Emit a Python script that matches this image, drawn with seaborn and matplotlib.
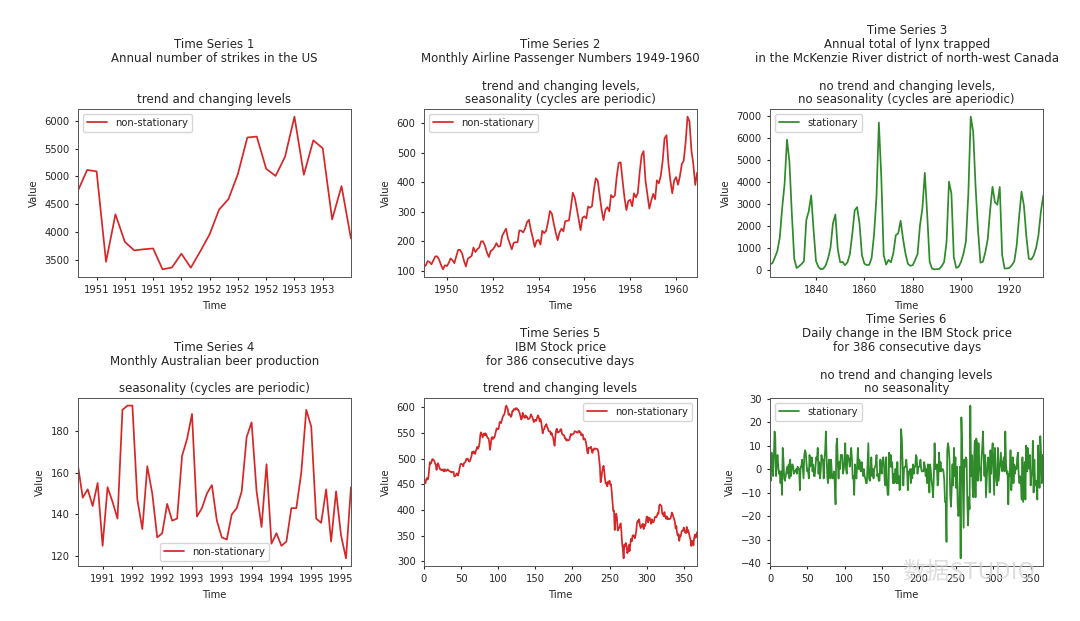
import pandas as pd
import numpy as np
import matplotlib
matplotlib.use("Agg")
import matplotlib.pyplot as plt
import matplotlib.dates as mdates
import seaborn as sns

# Time Series 1: annual number of strikes in the US
strikes = [4737, 5117, 5091, 3468, 4320, 3825, 3673, 3694, 3708, 3333,
           3367, 3614, 3362, 3655, 3963, 4405, 4595, 5045, 5700, 5716,
           5138, 5010, 5353, 6074, 5031, 5648, 5506, 4230, 4827, 3885]
strikes_tick_pos = [2, 5, 8, 11, 14, 17, 20, 23, 26]
strikes_tick_labels = ["1951", "1951", "1951", "1952", "1952", "1952", "1952", "1953", "1953"]

# Time Series 2: monthly airline passengers 1949-1960
airline = [112, 118, 132, 129, 121, 135, 148, 148, 136, 119, 104, 118,
           115, 126, 141, 135, 125, 149, 170, 170, 158, 133, 114, 140,
           145, 150, 178, 163, 172, 178, 199, 199, 184, 162, 146, 166,
           171, 180, 193, 181, 183, 218, 230, 242, 209, 191, 172, 194,
           196, 196, 236, 235, 229, 243, 264, 272, 237, 211, 180, 201,
           204, 188, 235, 227, 234, 264, 302, 293, 259, 229, 203, 229,
           242, 233, 267, 269, 270, 315, 364, 347, 312, 274, 237, 278,
           284, 277, 317, 313, 318, 374, 413, 405, 355, 306, 271, 306,
           315, 301, 356, 348, 355, 422, 465, 467, 404, 347, 305, 336,
           340, 318, 362, 348, 363, 435, 491, 505, 404, 359, 310, 337,
           360, 342, 406, 396, 420, 472, 548, 559, 463, 407, 362, 405,
           417, 391, 419, 461, 472, 535, 622, 606, 508, 461, 390, 432]
airline_start = "1949-01-01"

# Time Series 3: annual lynx trappings 1821-1934
lynx = [269, 321, 585, 871, 1475, 2821, 3928, 5943, 4950, 2577, 523, 98,
        184, 279, 409, 2285, 2685, 3409, 1824, 409, 151, 45, 68, 213, 546,
        1033, 2129, 2536, 957, 361, 377, 225, 360, 731, 1638, 2725, 2871,
        2119, 684, 299, 236, 245, 552, 1623, 3311, 6721, 4254, 687, 255,
        473, 358, 784, 1594, 1676, 2251, 1426, 756, 299, 201, 229, 469, 736,
        2042, 2811, 4431, 2511, 389, 73, 39, 49, 59, 188, 377, 1292, 4031,
        3495, 587, 105, 153, 387, 758, 1307, 3465, 6991, 6313, 3794, 1836,
        345, 382, 808, 1388, 2713, 3800, 3091, 2985, 3790, 674, 81, 80, 108,
        229, 399, 1132, 2432, 3574, 2935, 1537, 529, 485, 662, 1000, 1590,
        2657, 3396]
lynx_first_year = 1821

# Time Series 4: monthly Australian beer production
beer = [164, 148, 152, 144, 155, 125, 153, 146, 138, 190, 192, 192,
        147, 133, 163, 150, 129, 131, 145, 137, 138, 168, 176, 188,
        139, 143, 150, 154, 137, 129, 128, 140, 143, 151, 177, 184,
        151, 134, 164, 126, 131, 125, 127, 143, 143, 160, 190, 182,
        138, 136, 152, 127, 151, 130, 119, 153]
beer_tick_pos = [5, 11, 17, 23, 29, 35, 41, 47, 53]
beer_tick_labels = ["1991", "1992", "1992", "1993", "1993", "1994", "1994", "1995", "1995"]

# Time Series 5: IBM stock price
ibm = [460, 457, 452, 459, 462, 459, 463, 479, 493, 490,
       492, 498, 499, 497, 496, 490, 489, 478, 487, 491,
       487, 482, 479, 478, 479, 477, 479, 475, 479, 476,
       476, 478, 479, 477, 476, 475, 475, 473, 474, 474,
       474, 465, 466, 467, 471, 471, 467, 473, 481, 488,
       490, 489, 489, 485, 491, 492, 494, 499, 498, 500,
       497, 494, 495, 500, 504, 513, 511, 514, 510, 509,
       515, 519, 523, 519, 523, 531, 547, 551, 547, 541,
       545, 549, 545, 549, 547, 543, 540, 539, 532, 517,
       527, 540, 542, 538, 541, 541, 547, 553, 559, 557,
       557, 560, 571, 571, 569, 575, 580, 584, 585, 590,
       599, 603, 599, 596, 585, 587, 585, 581, 583, 592,
       592, 596, 596, 595, 598, 598, 595, 595, 592, 588,
       582, 576, 578, 589, 585, 580, 579, 584, 581, 581,
       577, 577, 578, 580, 586, 583, 581, 576, 571, 575,
       575, 573, 577, 582, 584, 579, 572, 577, 571, 560,
       549, 556, 557, 563, 564, 567, 561, 559, 553, 553,
       553, 547, 550, 544, 541, 532, 525, 542, 555, 558,
       551, 551, 552, 553, 557, 557, 548, 547, 545, 545,
       539, 539, 535, 537, 535, 536, 537, 543, 548, 546,
       547, 548, 549, 553, 553, 552, 551, 550, 553, 554,
       551, 551, 545, 547, 547, 537, 539, 538, 533, 525,
       513, 510, 521, 521, 521, 523, 516, 511, 518, 517,
       520, 519, 519, 519, 518, 513, 499, 485, 454, 462,
       473, 482, 486, 475, 459, 451, 453, 446, 455, 452,
       457, 449, 450, 435, 415, 398, 399, 361, 383, 393,
       385, 360, 364, 365, 370, 374, 359, 335, 323, 306,
       333, 330, 336, 328, 316, 320, 332, 320, 333, 344,
       339, 350, 351, 350, 345, 350, 359, 375, 379, 376,
       382, 370, 365, 367, 372, 373, 363, 371, 369, 376,
       387, 387, 376, 385, 385, 380, 373, 382, 377, 376,
       379, 386, 387, 386, 389, 394, 393, 409, 411, 409,
       408, 393, 391, 388, 396, 387, 383, 388, 382, 384,
       382, 383, 383, 388, 395, 392, 386, 383, 377, 364,
       369, 355, 350, 353, 340, 350, 349, 358, 360, 360,
       366, 359, 356, 355, 367, 357, 361, 355, 348, 343,
       330, 340, 339, 331, 345, 352, 346, 352, 357]

# Time Series 6: daily change in IBM stock price
ibm_change = [-3, -5, 7, 3, -3, 4, 16, 14, -3, 2,
              6, 1, -2, -1, -6, -1, -11, 9, 4, -4,
              -5, -3, -1, 1, -2, 2, -4, 4, -3, 0,
              2, 1, -2, -1, -1, 0, -2, 1, 0, 0,
              -9, 1, 1, 4, 0, -4, 6, 8, 7, 2,
              -1, 0, -4, 6, 1, 2, 5, -1, 2, -3,
              -3, 1, 5, 4, 9, -2, 3, -4, -1, 6,
              4, 4, -4, 4, 8, 16, 4, -4, -6, 4,
              4, -4, 4, -2, -4, -3, -1, -7, -15, 10,
              13, 2, -4, 3, 0, 6, 6, 6, -2, 0,
              3, 11, 0, -2, 6, 5, 4, 1, 5, 9,
              4, -4, -3, -11, 2, -2, -4, 2, 9, 0,
              4, 0, -1, 3, 0, -3, 0, -3, -4, -6,
              -6, 2, 11, -4, -5, -1, 5, -3, 0, -4,
              0, 1, 2, 6, -3, -2, -5, -5, 4, 0,
              -2, 4, 5, 2, -5, -7, 5, -6, -11, -11,
              7, 1, 6, 1, 3, -6, -2, -6, 0, 0,
              -6, 3, -6, -3, -9, -7, 17, 13, 3, -7,
              0, 1, 1, 4, 0, -9, -1, -2, 0, -6,
              0, -4, 2, -2, 1, 1, 6, 5, -2, 1,
              1, 1, 4, 0, -1, -1, -1, 3, 1, -3,
              0, -6, 2, 0, -10, 2, -1, -5, -8, -12,
              -3, 11, 0, 0, 2, -7, -5, 7, -1, 3,
              -1, 0, 0, -1, -5, -14, -14, -31, 8, 11,
              9, 4, -11, -16, -8, 2, -7, 9, -3, 5,
              -8, 1, -15, -20, -17, 1, -38, 22, 10, -8,
              -25, 4, 1, 5, 4, -15, -24, -12, -17, 27,
              -3, 6, -8, -12, 4, 12, -12, 13, 11, -5,
              11, 1, -1, -5, 5, 9, 16, 4, -3, 6,
              -12, -5, 2, 5, 1, -10, 8, -2, 7, 11,
              0, -11, 9, 0, -5, -7, 9, -5, -1, 3,
              7, 1, -1, 3, 5, -1, 16, 2, -2, -1,
              -15, -2, -3, 8, -9, -4, 5, -6, 2, -2,
              1, 0, 5, 7, -3, -6, -3, -6, -13, 5,
              -14, -5, 3, -13, 10, -1, 9, 2, 0, 6,
              -7, -3, -1, 12, -10, 4, -6, -7, -5, -13,
              10, -1, -8, 14, 7, -6, 6, 5]

titles = [
    "Time Series 1\nAnnual number of strikes in the US\n\n\ntrend and changing levels",
    "Time Series 2\nMonthly Airline Passenger Numbers 1949-1960\n\ntrend and changing levels,\nseasonality (cycles are periodic)",
    "Time Series 3\nAnnual total of lynx trapped\nin the McKenzie River district of north-west Canada\n\nno trend and changing levels,\nno seasonality (cycles are aperiodic)",
    "Time Series 4\nMonthly Australian beer production\n\nseasonality (cycles are periodic)",
    "Time Series 5\nIBM Stock price\nfor 386 consecutive days\n\ntrend and changing levels",
    "Time Series 6\nDaily change in the IBM Stock price\nfor 386 consecutive days\n\nno trend and changing levels\nno seasonality",
]

RED = "#d62728"
GREEN = "#2f8a2a"

sns.set_style("ticks")
plt.rcParams["font.family"] = ["DejaVu Sans"]
plt.rcParams["xtick.labelsize"] = 7.2
plt.rcParams["ytick.labelsize"] = 7.2
plt.rcParams["axes.labelsize"] = 7.2
plt.rcParams["legend.fontsize"] = 7.2
plt.rcParams["xtick.major.size"] = 2.5
plt.rcParams["ytick.major.size"] = 2.5
plt.rcParams["axes.linewidth"] = 0.7
plt.rcParams["axes.edgecolor"] = "#555555"

fig, axes = plt.subplots(2, 3, figsize=(10.8, 6.21), dpi=100)
fig.subplots_adjust(left=0.072, right=0.966, top=0.8245, bottom=0.0886,
                    wspace=0.267, hspace=0.72)
axes = axes.ravel()

# 1
ax = axes[0]
x = np.arange(len(strikes))
sns.lineplot(x=x, y=strikes, ax=ax, color=RED, lw=1.25, label="non-stationary")
ax.set_xlim(x[0], x[-1])
ax.set_xticks(strikes_tick_pos)
ax.set_xticklabels(strikes_tick_labels)
ax.legend(loc="upper left")

# 2
ax = axes[1]
dates = pd.date_range(airline_start, periods=len(airline), freq="MS")
sns.lineplot(x=dates, y=airline, ax=ax, color=RED, lw=1.25, label="non-stationary")
ax.set_xlim(dates[0], dates[-1])
ax.xaxis.set_major_locator(mdates.YearLocator(2))
ax.xaxis.set_major_formatter(mdates.DateFormatter("%Y"))
ax.legend(loc="upper left")

# 3
ax = axes[2]
years = np.arange(lynx_first_year, lynx_first_year + len(lynx))
sns.lineplot(x=years, y=lynx, ax=ax, color=GREEN, lw=1.25, label="stationary")
ax.set_xlim(years[0], years[-1])
ax.legend(loc="upper left")

# 4
ax = axes[3]
x = np.arange(len(beer))
sns.lineplot(x=x, y=beer, ax=ax, color=RED, lw=1.25, label="non-stationary")
ax.set_xlim(x[0], x[-1])
ax.set_xticks(beer_tick_pos)
ax.set_xticklabels(beer_tick_labels)
ax.legend(loc="lower center")

# 5
ax = axes[4]
x = np.arange(len(ibm))
sns.lineplot(x=x, y=ibm, ax=ax, color=RED, lw=1.25, label="non-stationary")
ax.set_xlim(x[0], x[-1])
ax.legend(loc="upper right")

# 6
ax = axes[5]
x = np.arange(len(ibm_change))
sns.lineplot(x=x, y=ibm_change, ax=ax, color=GREEN, lw=1.25, label="stationary")
ax.set_xlim(x[0], x[-1])
ax.legend(loc="upper left")

for ax, t in zip(axes, titles):
    ax.set_title(t, fontsize=8.5, pad=4, color="#262626", linespacing=1.09)
    ax.set_xlabel("Time")
    ax.set_ylabel("Value")
    for s in ax.spines.values():
        s.set_visible(True)

# faint watermark in the lower right corner
fig.text(0.897, 0.078, "数据STUDIO", fontsize=17, color="#d4d4d4", alpha=0.75,
         ha="center", va="center", family=["Noto Sans CJK SC", "DejaVu Sans"])

fig.savefig("out.png", dpi=100)
